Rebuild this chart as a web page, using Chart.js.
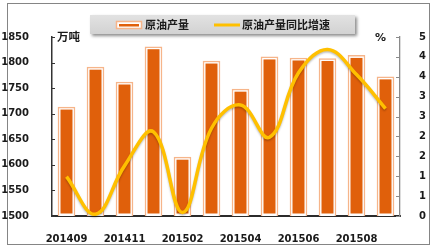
<!DOCTYPE html>
<html>
<head>
<meta charset="utf-8">
<script src="https://cdn.jsdelivr.net/npm/chart.js@4/dist/chart.umd.min.js"></script>
<style>
  html, body { margin: 0; padding: 0; background: #fff; }
  #wrap { width: 437px; height: 252px; position: relative; }
</style>
</head>
<body>
<div id="wrap"><canvas id="c" width="437" height="252"></canvas></div>
<script>
// Monthly crude oil output (10k tonnes) and its year-on-year growth (%)
const categories = ['201409','201410','201411','201412','201502','201503','201504','201505','201506','201507','201508','201509'];
const crudeOutput = [1713, 1791, 1762, 1831, 1615, 1803, 1748, 1811, 1809, 1808, 1814, 1772];
const outputGrowth = [1.1, 0.05, 1.4, 2.35, 0.1, 2.45, 3.1, 2.2, 4.0, 4.65, 3.95, 3.0];
const seriesNames = ['原油产量', '原油产量同比增速'];
const leftUnit = '万吨';
const rightUnit = '%';
const rightTickLabels = ['0', '1', '1', '2', '2', '3', '3', '4', '4', '5'];

const BAR_DARK = '#E0600B';
const BAR_EDGE = '#F6B58A';
const LINE_COLOR = '#FFC000';
const NUM_FONT = 'DejaVu Sans';
const CJK_FONT = '"Noto Sans CJK SC", "Noto Sans", sans-serif';

// Outer frame around the whole figure
const framePlugin = {
  id: 'frame',
  beforeDraw(chart) {
    const ctx = chart.ctx;
    ctx.save();
    ctx.fillStyle = '#fff';
    ctx.fillRect(0, 0, chart.width, chart.height);
    ctx.strokeStyle = '#858585';
    ctx.lineWidth = 1;
    ctx.strokeRect(7.5, 3.5, 422, 241);
    ctx.restore();
  }
};

// Dark inner fill of each bar (inset from its light outline) and a soft shadow under the line
const seriesStylePlugin = {
  id: 'seriesStyle',
  beforeDatasetDraw(chart, args) {
    if (args.index !== 1) return;
    const ctx = chart.ctx;
    ctx.save();
    ctx.shadowColor = 'rgba(0,0,0,0.25)';
    ctx.shadowBlur = 2;
    ctx.shadowOffsetY = 1.5;
  },
  afterDatasetDraw(chart, args) {
    const ctx = chart.ctx;
    if (args.index === 1) { ctx.restore(); return; }
    if (args.index !== 0) return;
    const bottom = chart.chartArea.bottom;
    ctx.save();
    ctx.fillStyle = BAR_DARK;
    args.meta.data.forEach(el => {
      const p = el.getProps(['x', 'y', 'base', 'width'], true);
      const inset = 2.5;
      const base = Math.min(p.base, bottom);
      const left = p.x - p.width / 2 + inset;
      const top = p.y + inset;
      ctx.fillRect(left, top, p.width - 2 * inset, base - inset - top);
    });
    ctx.restore();
  }
};

// Inward tick marks, unit captions and the boxed legend
const decorPlugin = {
  id: 'decor',
  afterDraw(chart) {
    const ctx = chart.ctx;
    const area = chart.chartArea;
    const yL = chart.scales.y;
    const yR = chart.scales.y1;
    ctx.save();

    ctx.lineWidth = 1;
    ctx.strokeStyle = '#333';
    yL.ticks.forEach(t => {
      const py = Math.round(yL.getPixelForValue(t.value)) + 0.5;
      ctx.beginPath(); ctx.moveTo(area.left, py); ctx.lineTo(area.left + 3, py); ctx.stroke();
    });
    ctx.strokeStyle = '#8a8a8a';
    yR.ticks.forEach(t => {
      const py = Math.round(yR.getPixelForValue(t.value)) + 0.5;
      ctx.beginPath(); ctx.moveTo(area.right - 4, py); ctx.lineTo(area.right, py); ctx.stroke();
    });

    ctx.fillStyle = '#1a1a1a';
    ctx.textBaseline = 'middle';
    ctx.textAlign = 'left';
    ctx.font = 'bold 11.5px ' + CJK_FONT;
    ctx.fillText(leftUnit, 57, 37);
    ctx.font = 'bold 11px ' + NUM_FONT;
    ctx.fillText(rightUnit, 375, 38);

    // legend box
    const bx = 90, by = 15, bw = 265, bh = 19;
    ctx.save();
    ctx.shadowColor = 'rgba(0,0,0,0.45)';
    ctx.shadowBlur = 3;
    ctx.shadowOffsetX = 2;
    ctx.shadowOffsetY = 2;
    const g = ctx.createLinearGradient(0, by, 0, by + bh);
    g.addColorStop(0, '#e2e2e2');
    g.addColorStop(1, '#d2d2d2');
    ctx.fillStyle = g;
    ctx.fillRect(bx, by, bw, bh);
    ctx.restore();

    // bar key
    ctx.fillStyle = '#fff';
    ctx.fillRect(116, 21, 26, 8);
    ctx.strokeStyle = BAR_EDGE;
    ctx.lineWidth = 1.5;
    ctx.strokeRect(116.5, 21.5, 25, 7);
    ctx.fillStyle = BAR_DARK;
    ctx.fillRect(119, 24, 20, 2.5);

    // line key
    ctx.strokeStyle = LINE_COLOR;
    ctx.lineWidth = 3;
    ctx.beginPath(); ctx.moveTo(214, 25); ctx.lineTo(240, 25); ctx.stroke();

    ctx.fillStyle = '#1a1a1a';
    ctx.font = 'bold 11px ' + CJK_FONT;
    ctx.fillText(chart.data.datasets[0].label, 145, 25);
    ctx.fillText(chart.data.datasets[1].label, 242, 25);

    ctx.restore();
  }
};

new Chart(document.getElementById('c'), {
  data: {
    labels: categories,
    datasets: [
      {
        type: 'bar',
        label: seriesNames[0],
        data: crudeOutput,
        yAxisID: 'y',
        base: 1500,
        backgroundColor: '#ffffff',
        borderColor: BAR_EDGE,
        borderWidth: 1.5,
        barThickness: 17,
        order: 2
      },
      {
        type: 'line',
        label: seriesNames[1],
        data: outputGrowth,
        yAxisID: 'y1',
        borderColor: LINE_COLOR,
        borderWidth: 3.5,
        tension: 0.4,
        pointRadius: 0,
        fill: false,
        clip: false,
        order: 1
      }
    ]
  },
  options: {
    responsive: false,
    animation: false,
    devicePixelRatio: 1,
    layout: { padding: { top: 37, left: 0, right: 0, bottom: 0 } },
    plugins: { legend: { display: false }, tooltip: { enabled: false } },
    scales: {
      x: {
        grid: { display: false },
        border: { display: true, color: '#2b2b2b', width: 2 },
        ticks: {
          autoSkip: false,
          maxRotation: 0,
          padding: 9,
          color: '#1a1a1a',
          font: { family: NUM_FONT, size: 10, weight: 'bold' },
          callback: (v, i) => (i % 2 === 0 ? categories[i] : '')
        },
        afterFit: s => { s.height = 36; }
      },
      y: {
        position: 'left',
        min: 1500,
        max: 1850,
        grid: { display: false },
        border: { display: true, color: '#333', width: 1.5 },
        ticks: {
          stepSize: 50,
          padding: 15,
          color: '#1a1a1a',
          font: { family: NUM_FONT, size: 10, weight: 'bold' },
          callback: v => String(v)
        },
        afterFit: s => { s.width = 52; }
      },
      y1: {
        position: 'right',
        min: 0,
        max: 5,
        grid: { display: false },
        border: { display: true, color: '#8a8a8a', width: 1.3 },
        afterBuildTicks: s => {
          s.ticks = rightTickLabels.map((_, i) => ({ value: 5 * i / (rightTickLabels.length - 1) }));
        },
        ticks: {
          padding: 11,
          color: '#1a1a1a',
          font: { family: NUM_FONT, size: 10, weight: 'bold' },
          callback: (v, i) => rightTickLabels[i]
        },
        afterFit: s => { s.width = 37; }
      }
    }
  },
  plugins: [framePlugin, seriesStylePlugin, decorPlugin]
});
</script>
</body>
</html>
